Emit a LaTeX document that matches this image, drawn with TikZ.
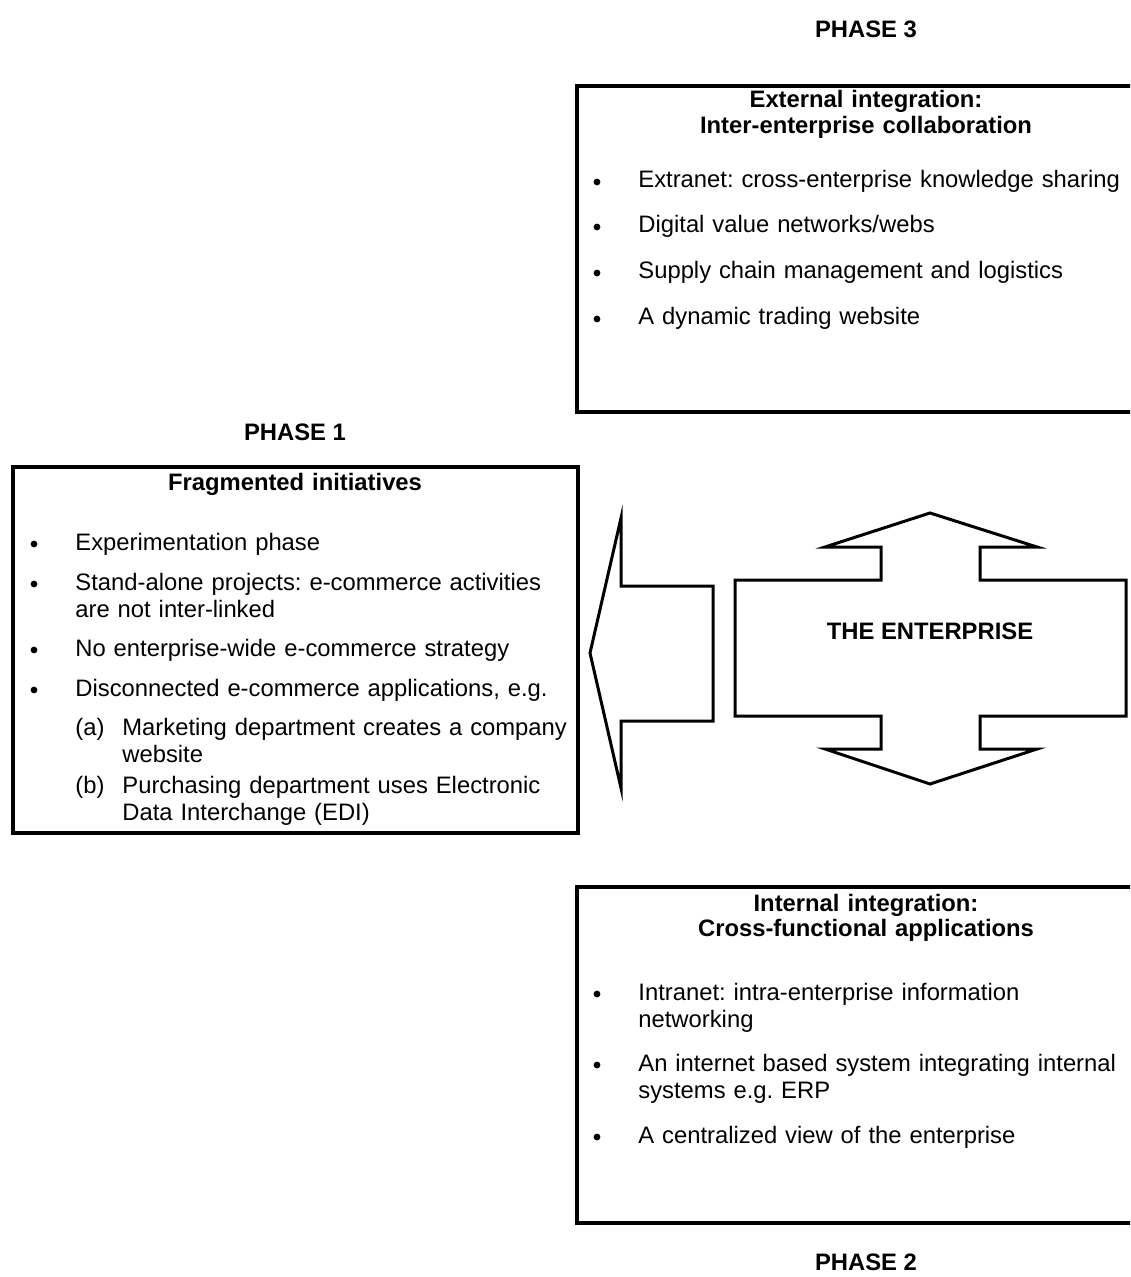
\documentclass[tikz,border=0pt]{standalone}
\usepackage{fontspec}
\setmainfont{Liberation Sans}
\frenchspacing
\begin{document}
\begin{tikzpicture}[x=0.5pt,y=-0.5pt,line join=miter,font=\fontsize{11.9}{13.8}\selectfont,
	panel/.style={draw,line width=2pt,anchor=north west,inner sep=0pt,outer sep=0pt},
	phase/.style={font=\fontsize{11.9}{13.8}\selectfont\bfseries,anchor=base},
	headline/.style={font=\fontsize{11.9}{12.6}\selectfont\bfseries,anchor=base,text width=290pt,align=center,inner sep=0pt},
	bul/.style={circle,fill,inner sep=0pt,minimum size=3.4pt},
	entry/.style={anchor=base west,inner sep=0pt,text width=260pt,align=left},
	arrowline/.style={line width=1.5pt}]
	\clip (0,0) rectangle (1130,1277);
	% phase 3 : external integration
	\node[phase] (ph3) at (866,38) {PHASE 3};
	\node[panel,minimum width=296.5pt,minimum height=163pt] (extbox) at (577,86) {};
	\node[headline] (exthead) at (866,108) {External integration:\\Inter-enterprise collaboration};
	\node[bul] (e1b) at (597,182) {};
	\node[entry] (e1) at (638,188) {Extranet: cross-enterprise knowledge sharing};
	\node[bul] (e2b) at (597,227) {};
	\node[entry] (e2) at (638,233) {Digital value networks/webs};
	\node[bul] (e3b) at (597,273) {};
	\node[entry] (e3) at (638,279) {Supply chain management and logistics};
	\node[bul] (e4b) at (597,319) {};
	\node[entry] (e4) at (638,325) {A dynamic trading website};
	% phase 1 : fragmented initiatives
	\node[phase] (ph1) at (295,441) {PHASE 1};
	\node[panel,minimum width=282.5pt,minimum height=183pt] (fragbox) at (13,467) {};
	\node[headline] (fraghead) at (295,491) {Fragmented initiatives};
	\node[bul] (f1b) at (34,544) {};
	\node[entry] (f1) at (75,550) {Experimentation phase};
	\node[bul] (f2b) at (34,584) {};
	\node[entry] (f2) at (75,590) {Stand-alone projects: e-commerce activities\\are not inter-linked};
	\node[bul] (f3b) at (34,650) {};
	\node[entry] (f3) at (75,656) {No enterprise-wide e-commerce strategy};
	\node[bul] (f4b) at (34,690) {};
	\node[entry] (f4) at (75,696) {Disconnected e-commerce applications, e.g.};
	\node[entry,text width=30pt] (fab) at (75,735) {(a)};
	\node[entry,text width=225pt] (fa) at (122,735) {Marketing department creates a company\\website};
	\node[entry,text width=30pt] (fbb) at (75,793) {(b)};
	\node[entry,text width=225pt] (fb) at (122,793) {Purchasing department uses Electronic\\Data Interchange (EDI)};
	% the enterprise
	\draw[arrowline] (590,653) -- (621,518) -- (621,586) -- (713,586) -- (713,721) -- (621,721) -- (621,788) -- cycle;
	\draw[arrowline] (735,580) -- (881,580) -- (881,547) -- (825,547) -- (930,513) -- (1037,547) -- (980,547) -- (980,580)
		-- (1126,580) -- (1126,716) -- (980,716) -- (980,749) -- (1037,749) -- (930,784) -- (825,749) -- (881,749)
		-- (881,716) -- (735,716) -- cycle;
	\node[phase] (ent) at (930,639) {THE ENTERPRISE};
	% phase 2 : internal integration
	\node[panel,minimum width=296.5pt,minimum height=168pt] (intbox) at (577,887) {};
	\node[headline] (inthead) at (866,911) {Internal integration:\\Cross-functional applications};
	\node[bul] (i1b) at (597,994) {};
	\node[entry] (i1) at (638,1000) {Intranet: intra-enterprise information\\networking};
	\node[bul] (i2b) at (597,1065) {};
	\node[entry] (i2) at (638,1071) {An internet based system integrating internal\\systems e.g. ERP};
	\node[bul] (i3b) at (597,1137) {};
	\node[entry] (i3) at (638,1143) {A centralized view of the enterprise};
	\node[phase] (ph2) at (866,1270) {PHASE 2};
\end{tikzpicture}
\end{document}
